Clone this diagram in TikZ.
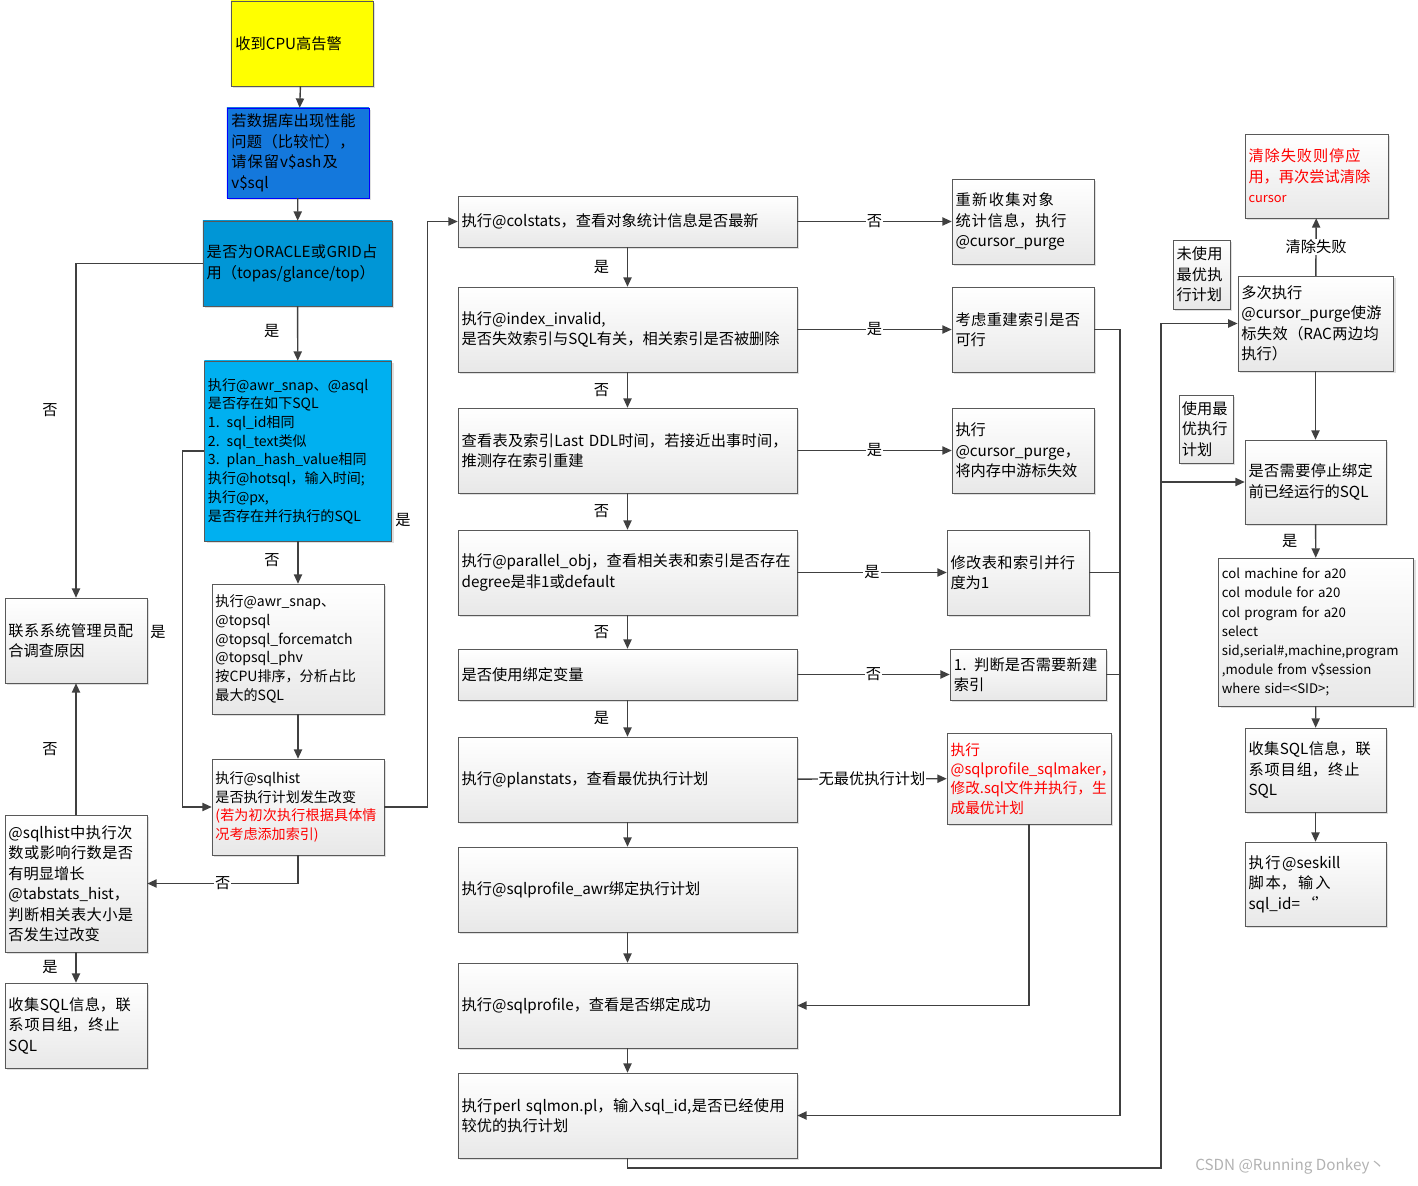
\documentclass[tikz,border=0pt]{standalone}
\usepackage{fontspec}
\setmainfont{Noto Sans CJK SC}
\usetikzlibrary{arrows.meta,shadows}
\XeTeXlinebreaklocale "zh"
\XeTeXlinebreakskip=0pt plus 1pt
\hyphenpenalty=10000
\exhyphenpenalty=10000
\definecolor{linegray}{RGB}{64,64,64}
\definecolor{dbblue}{RGB}{20,120,220}
\definecolor{orablue}{RGB}{0,150,214}
\definecolor{awrblue}{RGB}{0,176,240}
\tikzset{
  box/.style={draw=gray!70!black, top color=white, bottom color=gray!18, align=left,
    inner sep=3pt, anchor=center, font=\fontsize{13}{17.5}\selectfont,
    drop shadow={opacity=0.25, shadow xshift=2pt, shadow yshift=-2pt}},
  tag/.style={font=\fontsize{13}{15}\selectfont, inner sep=1pt},
  arr/.style={draw=linegray, line width=1.2pt, -{Triangle[length=8pt,width=7pt]}},
  ln/.style={draw=linegray, line width=1.2pt},
}
\begin{document}
\begin{tikzpicture}[x=0.03cm, y=-0.03cm]
    \useasboundingbox (0,0) rectangle (1418,1186);

    % Left column
    \node[box, fill=yellow, top color=yellow, bottom color=yellow, minimum width=4.26cm, minimum height=2.55cm, text width=4cm] (alarm) at (302,43.5) {收到CPU高告警};
    \node[box, draw=blue, top color=dbblue, bottom color=dbblue, minimum width=4.26cm, minimum height=2.7cm, text width=4cm] (dbperf) at (298,153) {若数据库出现性能问题（比较忙），请保留v\$ash及v\$sql};
    \node[box, top color=orablue, bottom color=orablue, minimum width=5.67cm, minimum height=2.55cm, text width=5.45cm] (isora) at (297.5,263.5) {是否为ORACLE或GRID占用（topas/glance/top）};
    \node[box, top color=awrblue, bottom color=awrblue, minimum width=5.58cm, minimum height=5.4cm, text width=5.4cm, font=\fontsize{12}{16}\selectfont] (awrsql) at (298,451) {执行@awr\_snap、@asql\\是否存在如下SQL\\1. sql\_id相同\\2. sql\_text类似\\3. plan\_hash\_value相同\\执行@hotsql，输入时间;\\执行@px,\\是否存在并行执行的SQL};
    \node[box, minimum width=5.16cm, minimum height=3.9cm, text width=4.95cm, font=\fontsize{12}{16}\selectfont] (topsql) at (298,649) {执行@awr\_snap、\\@topsql\\@topsql\_forcematch\\@topsql\_phv\\按CPU排序，分析占比\\最大的SQL};
    \node[box, minimum width=5.16cm, minimum height=2.88cm, text width=4.95cm, font=\fontsize{12}{16}\selectfont] (sqlhist) at (298,807) {执行@sqlhist\\是否执行计划发生改变\\\textcolor{red}{(若为初次执行根据具体情况考虑添加索引)}};
    \node[box, minimum width=4.26cm, minimum height=2.55cm, text width=4.05cm] (contact) at (76,640.5) {联系系统管理员配合调查原因};
    \node[box, minimum width=4.26cm, minimum height=4.11cm, text width=4.05cm] (growth) at (76,883.5) {@sqlhist中执行次数或影响行数是否有明显增长\\@tabstats\_hist，判断相关表大小是否发生过改变};
    \node[box, minimum width=4.26cm, minimum height=2.55cm, text width=4.05cm] (collectL) at (76,1025.5) {收集SQL信息，联系项目组，终止SQL};

    % Middle column
    \node[box, minimum width=10.17cm, minimum height=1.53cm, text width=9.95cm] (colstats) at (627.5,221.5) {执行@colstats，查看对象统计信息是否最新};
    \node[box, minimum width=10.17cm, minimum height=2.55cm, text width=9.95cm] (index) at (627.5,329.5) {执行@index\_invalid,\\是否失效索引与SQL有关，相关索引是否被删除};
    \node[box, minimum width=10.17cm, minimum height=2.55cm, text width=9.95cm] (ddl) at (627.5,450.5) {查看表及索引Last DDL时间，若接近出事时间，推测存在索引重建};
    \node[box, minimum width=10.17cm, minimum height=2.55cm, text width=9.95cm] (parallel) at (627.5,572.5) {执行@parallel\_obj，查看相关表和索引是否存在degree是非1或default};
    \node[box, minimum width=10.17cm, minimum height=1.53cm, text width=9.95cm] (bind) at (627.5,674.5) {是否使用绑定变量};
    \node[box, minimum width=10.17cm, minimum height=2.55cm, text width=9.95cm] (plan) at (627.5,779.5) {执行@planstats，查看最优执行计划};
    \node[box, minimum width=10.17cm, minimum height=2.55cm, text width=9.95cm] (awr) at (627.5,889.5) {执行@sqlprofile\_awr绑定执行计划};
    \node[box, minimum width=10.17cm, minimum height=2.55cm, text width=9.95cm] (prof) at (627.5,1005.5) {执行@sqlprofile，查看是否绑定成功};
    \node[box, minimum width=10.17cm, minimum height=2.55cm, text width=9.95cm] (perl) at (627.5,1115.5) {执行perl sqlmon.pl，输入sql\_id,是否已经使用较优的执行计划};

    % Right of middle column
    \node[box, minimum width=4.26cm, minimum height=2.55cm, text width=4.05cm] (regather) at (1023,221.5) {重新收集对象统计信息，执行@cursor\_purge};
    \node[box, minimum width=4.26cm, minimum height=2.55cm, text width=4.05cm] (rebuild) at (1023,329.5) {考虑重建索引是否可行};
    \node[box, minimum width=4.26cm, minimum height=2.55cm, text width=4.05cm] (purge) at (1023,450.5) {执行\\@cursor\_purge，将内存中游标失效};
    \node[box, minimum width=4.26cm, minimum height=2.55cm, text width=4.05cm] (modify) at (1018,572.5) {修改表和索引并行度为1};
    \node[box, minimum width=4.68cm, minimum height=1.53cm, text width=4.45cm] (newidx) at (1028,674.5) {1. 判断是否需要新建索引};
    \node[box, text=red, minimum width=4.92cm, minimum height=2.73cm, text width=4.7cm, font=\fontsize{12.5}{16.5}\selectfont] (maker) at (1029,778.5) {执行\\@sqlprofile\_sqlmaker，修改.sql文件并执行，生成最优计划};

    % Far right column
    \node[box, text=red, minimum width=4.29cm, minimum height=2.52cm, text width=4.08cm] (fail) at (1316.5,176) {清除失败则停应用，再次尝试清除\\{\fontsize{11}{14}\selectfont cursor}};
    \node[box, minimum width=4.65cm, minimum height=2.85cm, text width=4.45cm] (multi) at (1315.5,323.5) {多次执行\\@cursor\_purge使游标失效（RAC两边均执行）};
    \node[box, minimum width=1.71cm, minimum height=2.07cm, text width=1.5cm, inner sep=2pt] (unused) at (1201.5,274.5) {未使用最优执行计划};
    \node[box, minimum width=1.62cm, minimum height=2.04cm, text width=1.45cm, inner sep=2pt] (used) at (1206,429) {使用最优执行计划};
    \node[box, minimum width=4.23cm, minimum height=2.52cm, text width=4.02cm] (stopq) at (1315.5,482) {是否需要停止绑定前已经运行的SQL};
    \node[box, font=\fontsize{11.3}{16.3}\selectfont, minimum width=5.82cm, minimum height=4.44cm, text width=5.65cm] (colq) at (1316,632) {col machine for a20\\col module for a20\\col program for a20\\select\\sid,serial\#,machine,program\\,module from v\$session\\where sid=<SID>;};
    \node[box, minimum width=4.23cm, minimum height=2.52cm, text width=4.02cm] (collectR) at (1315.5,770) {收集SQL信息，联系项目组，终止SQL};
    \node[box, minimum width=4.23cm, minimum height=2.52cm, text width=4.02cm] (seskill) at (1315.5,884) {执行@seskill脚本，输入sql\_id=‘’};

    % Left connectors
    \draw[arr] (alarm) -- (dbperf);
    \draw[arr] (dbperf) -- (isora);
    \draw[arr] (isora) -- node[tag, pos=0.45, left=14pt] {是} (awrsql);
    \draw[arr] (isora.west) -| node[tag, pos=0.72, left=14pt] {否} (contact.north);
    \draw[arr] (awrsql) -- node[tag, pos=0.45, left=14pt] {否} (topsql);
    \draw[arr] (topsql) -- (sqlhist);
    \draw[arr] (awrsql.west) -- ++(-22,0) |- (sqlhist.west);
    \draw[arr] (sqlhist.east) -- ++(43,0) |- (colstats.west);
    \draw[arr] (sqlhist.south) |- node[tag, fill=white, pos=0.75] {否} (growth.east);
    \draw[arr] (growth) -- node[tag, left=14pt] {否} (contact);
    \draw[arr] (growth) -- node[tag, left=14pt] {是} (collectL);
    \node[tag] (awryes) at (403,520) {是};
    \node[tag] (contactyes) at (158,632) {是};

    % Middle connectors
    \draw[arr] (colstats) -- node[tag, left=14pt] {是} (index);
    \draw[arr] (index) -- node[tag, left=14pt] {否} (ddl);
    \draw[arr] (ddl) -- node[tag, left=14pt] {否} (parallel);
    \draw[arr] (parallel) -- node[tag, left=14pt] {否} (bind);
    \draw[arr] (bind) -- node[tag, left=14pt] {是} (plan);
    \draw[arr] (plan) -- (awr);
    \draw[arr] (awr) -- (prof);
    \draw[arr] (prof) -- (perl);
    \draw[arr] (colstats) -- node[tag, fill=white] {否} (regather);
    \draw[arr] (index) -- node[tag, fill=white] {是} (rebuild);
    \draw[arr] (ddl) -- node[tag, fill=white] {是} (purge);
    \draw[arr] (parallel) -- node[tag, fill=white] {是} (modify);
    \draw[arr] (bind) -- node[tag, fill=white] {否} (newidx);
    \draw[arr] (plan) -- node[tag, fill=white] {无最优执行计划} (maker);

    % Back to perl and sqlprofile
    \coordinate (busR) at (1120,0);
    \draw[arr] (rebuild.east) -- (rebuild.east -| busR) |- (perl.east);
    \draw[ln] (modify.east) -- (modify.east -| busR);
    \draw[ln] (newidx.east) -- (newidx.east -| busR);
    \draw[arr] (maker.south) |- (prof.east);

    % Right connectors
    \coordinate (busL) at (1161,1168);
    \draw[arr] (perl.south) |- (busL) |- (multi.west);
    \draw[arr] (busL |- stopq.west) -- (stopq.west);
    \draw[arr] (multi) -- node[tag, fill=white] {清除失败} (fail);
    \draw[arr] (multi) -- (stopq);
    \draw[arr] (stopq) -- node[tag, left=14pt] {是} (colq);
    \draw[arr] (colq) -- (collectR);
    \draw[arr] (collectR) -- (seskill);

    % Watermark
    \node[text=gray!60, font=\fontsize{13}{15}\selectfont] (mark) at (1290,1166) {CSDN @Running Donkey丶};
\end{tikzpicture}
\end{document}
